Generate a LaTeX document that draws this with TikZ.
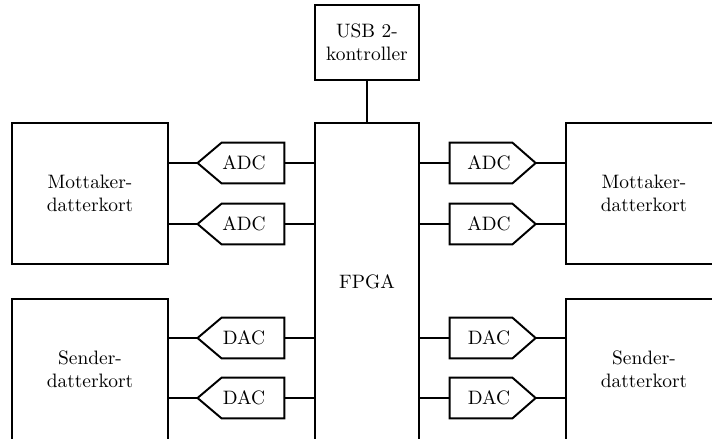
\documentclass[tikz,border=0pt]{standalone}
\begin{document}
\begin{tikzpicture}[x=0.515pt,y=-0.515pt,
  wire/.style={line width=1pt},
  blk/.style={draw, line width=1pt, minimum width=156*0.515pt, minimum height=141*0.515pt, align=center, inner sep=0pt},
  body/.style={minimum width=62*0.515pt, minimum height=40*0.515pt, inner sep=0pt}]
\useasboundingbox (0,0) rectangle (712,438);
\clip (0,0) rectangle (712,438);
% big blocks
\node[blk] (m1) at (90,193.5) {Mottaker-\\datterkort};
\node[blk] (s1) at (90,369.5) {Sender-\\datterkort};
\node[blk] (m2) at (644,193.5) {Mottaker-\\datterkort};
\node[blk] (s2) at (644,369.5) {Sender-\\datterkort};
\node[blk, minimum width=104*0.515pt, minimum height=317*0.515pt] (fpga) at (367,281.5) {FPGA};
\node[blk, minimum width=104*0.515pt, minimum height=75*0.515pt] (usb) at (367,42.5) {USB 2-\\kontroller};
\draw[wire] (usb.south) -- (fpga.north);
% left converters (point left)
\foreach \n/\t/\yy/\b in {la1/ADC/163/m1, la2/ADC/224/m1, ld1/DAC/338/s1, ld2/DAC/398/s1}{
  \node[body] (\n) at (253,\yy) {};
  \node (\n t) at (244,\yy) {\t};
  \coordinate (\n p) at ([xshift=-12.4pt]\n.west);
  \draw[wire] (\n.north east) -- (\n.north west) -- (\n p) -- (\n.south west) -- (\n.south east) -- cycle;
  \draw[wire] (\b.east |- \n p) -- (\n p);
  \draw[wire] (\n.east) -- (fpga.west |- \n.east);
}
% right converters (point right)
\foreach \n/\t/\yy/\b in {ra1/ADC/163/m2, ra2/ADC/224/m2, rd1/DAC/338/s2, rd2/DAC/398/s2}{
  \node[body] (\n) at (481,\yy) {};
  \node (\n t) at (489,\yy) {\t};
  \coordinate (\n p) at ([xshift=12pt]\n.east);
  \draw[wire] (\n.north west) -- (\n.north east) -- (\n p) -- (\n.south east) -- (\n.south west) -- cycle;
  \draw[wire] (\n p) -- (\b.west |- \n p);
  \draw[wire] (fpga.east |- \n.west) -- (\n.west);
}
\end{tikzpicture}
\end{document}
